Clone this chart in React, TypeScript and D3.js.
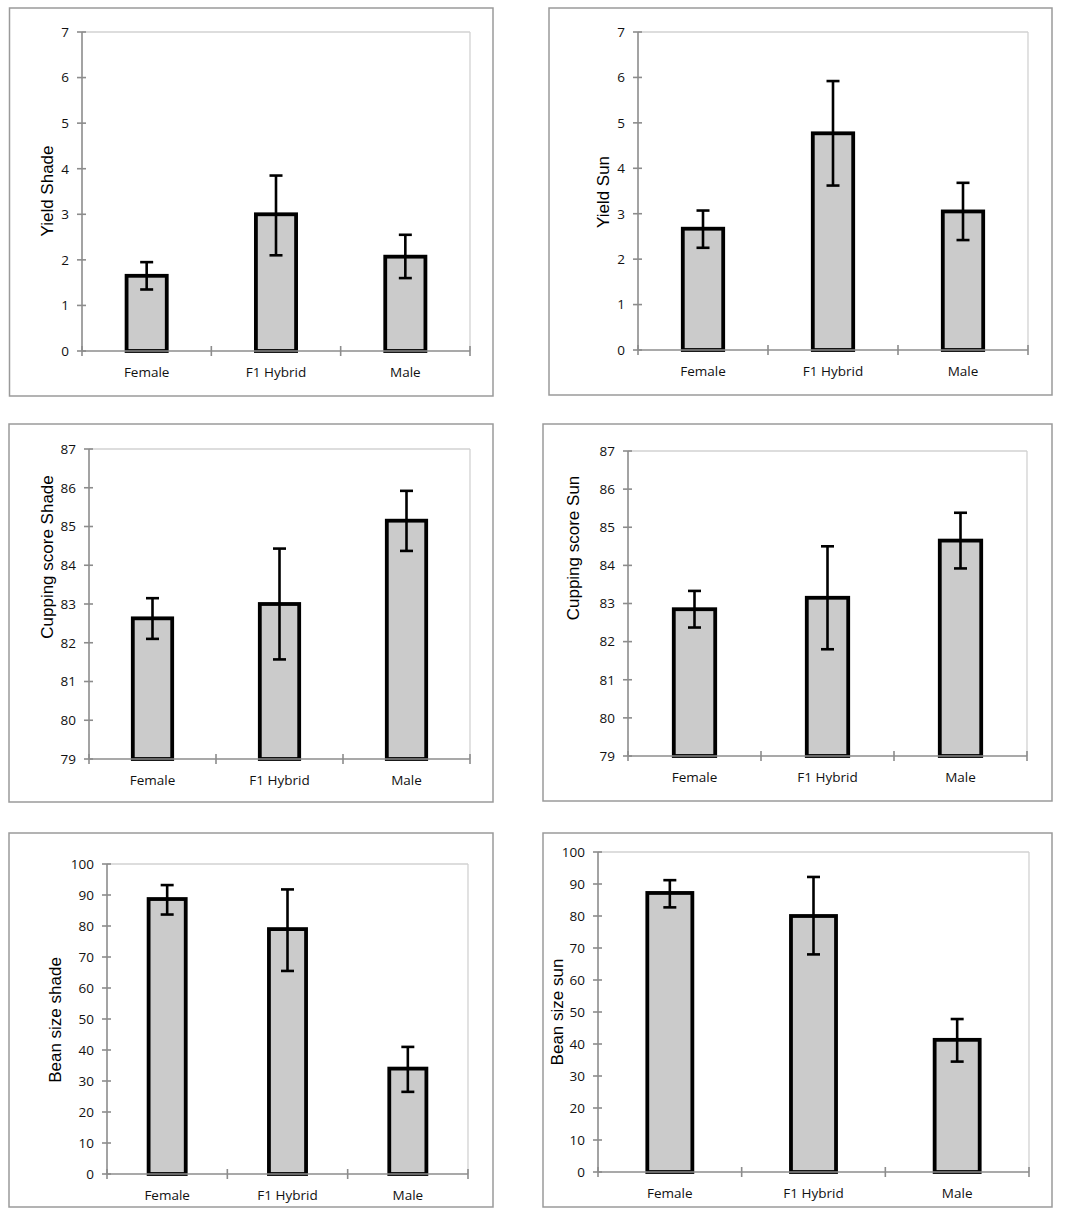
import React from "react";
import * as d3 from "d3";

const categories = ["Female", "F1 Hybrid", "Male"];

const yieldShadeMean = [1.65, 3.0, 2.07];
const yieldShadeLow = [1.35, 2.1, 1.6];
const yieldShadeHigh = [1.95, 3.85, 2.55];

const yieldSunMean = [2.67, 4.77, 3.05];
const yieldSunLow = [2.25, 3.62, 2.42];
const yieldSunHigh = [3.07, 5.92, 3.68];

const cupShadeMean = [82.63, 83.0, 85.15];
const cupShadeLow = [82.1, 81.57, 84.37];
const cupShadeHigh = [83.15, 84.43, 85.92];

const cupSunMean = [82.85, 83.15, 84.65];
const cupSunLow = [82.37, 81.8, 83.92];
const cupSunHigh = [83.33, 84.5, 85.38];

const beanShadeMean = [88.7, 79, 34];
const beanShadeLow = [83.7, 65.5, 26.5];
const beanShadeHigh = [93.2, 91.8, 41];

const beanSunMean = [87.2, 80, 41.3];
const beanSunLow = [82.7, 68, 34.5];
const beanSunHigh = [91.2, 92.2, 47.8];

const yieldTicks = [0, 1, 2, 3, 4, 5, 6, 7];
const cupTicks = [79, 80, 81, 82, 83, 84, 85, 86, 87];
const beanTicks = [0, 10, 20, 30, 40, 50, 60, 70, 80, 90, 100];

type Panel = {
  title: string;
  mean: number[];
  low: number[];
  high: number[];
  ticks: number[];
  border: [number, number, number, number];
  plot: [number, number, number, number]; // x0, x1, yTop, yBot
  titlePos: [number, number];
};

const panels: Panel[] = [
  {
    title: "Yield Shade", mean: yieldShadeMean, low: yieldShadeLow, high: yieldShadeHigh, ticks: yieldTicks,
    border: [9.5, 8, 483.5, 388], plot: [82, 470, 32, 351], titlePos: [47, 191],
  },
  {
    title: "Yield Sun", mean: yieldSunMean, low: yieldSunLow, high: yieldSunHigh, ticks: yieldTicks,
    border: [549, 8, 503, 387], plot: [638, 1028, 32, 350], titlePos: [603, 192],
  },
  {
    title: "Cupping score Shade", mean: cupShadeMean, low: cupShadeLow, high: cupShadeHigh, ticks: cupTicks,
    border: [9, 424, 484, 378], plot: [89, 470, 449, 759], titlePos: [47, 557],
  },
  {
    title: "Cupping score Sun", mean: cupSunMean, low: cupSunLow, high: cupSunHigh, ticks: cupTicks,
    border: [543, 424, 509, 377], plot: [628, 1027, 451, 756], titlePos: [573, 548],
  },
  {
    title: "Bean size shade", mean: beanShadeMean, low: beanShadeLow, high: beanShadeHigh, ticks: beanTicks,
    border: [9, 833, 484, 374], plot: [107, 468, 864, 1174], titlePos: [55, 1020],
  },
  {
    title: "Bean size sun", mean: beanSunMean, low: beanSunLow, high: beanSunHigh, ticks: beanTicks,
    border: [543, 833, 509, 374], plot: [598, 1029, 852, 1172], titlePos: [557, 1012],
  },
];

const tickFont = "'Open Sans', 'Noto Sans', sans-serif";
const titleFont = "'Liberation Sans', Arial, sans-serif";

function ChartPanel({ p }: { p: Panel }) {
  const [x0, x1, yTop, yBot] = p.plot;
  const x = d3.scaleBand<string>().domain(categories).range([x0, x1]).paddingInner(0).paddingOuter(0);
  const y = d3
    .scaleLinear()
    .domain([p.ticks[0], p.ticks[p.ticks.length - 1]])
    .range([yBot, yTop]);
  const bw = x.bandwidth();
  const barW = bw * 0.34 - 3.8;
  const capW = 13;
  const boundaries = [x0, ...categories.map((c) => (x(c) as number) + bw)];
  return (
    <g>
      <rect x={p.border[0]} y={p.border[1]} width={p.border[2]} height={p.border[3]} fill="#fff" stroke="#9a9a9a" strokeWidth={1.5} />
      <line x1={x0} x2={x1} y1={yTop} y2={yTop} stroke="#d2d2d2" strokeWidth={1.3} />
      <line x1={x1} x2={x1} y1={yTop} y2={yBot} stroke="#d2d2d2" strokeWidth={1.3} />
      {categories.map((c, i) => {
        const cx = (x(c) as number) + bw / 2;
        return (
          <rect
            key={c}
            x={cx - barW / 2}
            y={y(p.mean[i])}
            width={barW}
            height={yBot - y(p.mean[i])}
            fill="#cbcbcb"
            stroke="#000"
            strokeWidth={3.8}
          />
        );
      })}
      <line x1={x0} x2={x0} y1={yTop} y2={yBot} stroke="#8c8c8c" strokeWidth={1.6} />
      <line x1={x0} x2={x1} y1={yBot} y2={yBot} stroke="#8c8c8c" strokeWidth={1.6} />
      {p.ticks.map((t) => (
        <g key={t}>
          <line x1={x0 - 5} x2={x0 + 4} y1={y(t)} y2={y(t)} stroke="#8c8c8c" strokeWidth={1.6} />
          <text x={x0 - 13} y={y(t)} dy="0.36em" textAnchor="end" fontFamily={tickFont} fontSize={13.5} fill="#111">
            {t}
          </text>
        </g>
      ))}
      {boundaries.map((bx, i) => (
        <line key={i} x1={bx} x2={bx} y1={yBot - 5} y2={yBot + 5} stroke="#8c8c8c" strokeWidth={1.6} />
      ))}
      {categories.map((c) => (
        <text
          key={c}
          x={(x(c) as number) + bw / 2}
          y={yBot + 21}
          dy="0.35em"
          textAnchor="middle"
          fontFamily={tickFont}
          fontSize={13.5}
          fill="#111"
        >
          {c}
        </text>
      ))}
      {categories.map((c, i) => {
        const cx = (x(c) as number) + bw / 2;
        return (
          <g key={c} stroke="#000" strokeWidth={2.6}>
            <line x1={cx} x2={cx} y1={y(p.high[i])} y2={y(p.low[i])} />
            <line x1={cx - capW / 2} x2={cx + capW / 2} y1={y(p.high[i])} y2={y(p.high[i])} />
            <line x1={cx - capW / 2} x2={cx + capW / 2} y1={y(p.low[i])} y2={y(p.low[i])} />
          </g>
        );
      })}
      <text
        transform={`translate(${p.titlePos[0]},${p.titlePos[1]}) rotate(-90)`}
        textAnchor="middle"
        dy="0.35em"
        fontFamily={titleFont}
        fontSize={17}
        fill="#000"
      >
        {p.title}
      </text>
    </g>
  );
}

export default function App() {
  return (
    <div style={{ position: "absolute", left: 0, top: 0 }}>
      <svg width={1084} height={1218} viewBox="0 0 1084 1218" style={{ display: "block", background: "#fff" }}>
        <rect x={0} y={0} width={1084} height={1218} fill="#fff" />
        {panels.map((p) => (
          <ChartPanel key={p.title} p={p} />
        ))}
      </svg>
    </div>
  );
}
